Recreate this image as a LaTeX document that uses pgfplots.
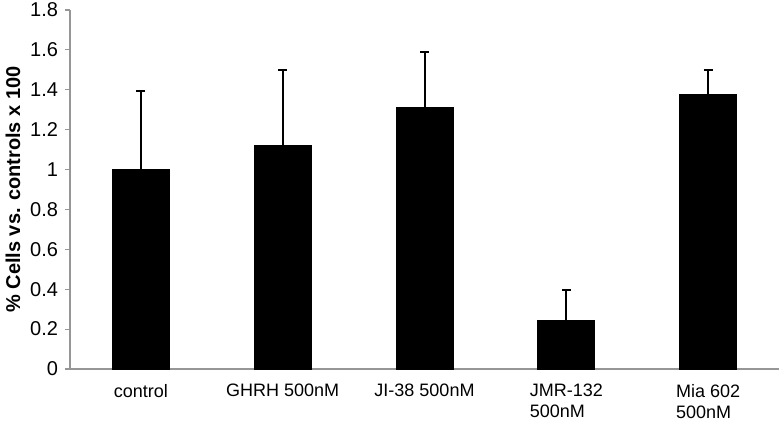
\documentclass[border=0pt]{standalone}
\usepackage{fontspec}
\setmainfont{Liberation Sans}
\usepackage{pgfplots}
\pgfplotsset{compat=1.18}

\definecolor{axisgray}{RGB}{150,150,150}

\begin{document}
\begin{tikzpicture}
\begin{axis}[
    scale only axis,
    width=354.5pt,
    height=179.5pt,
    ybar,
    bar width=28.5pt,
    xmin=-0.5, xmax=4.5,
    ymin=0, ymax=1.8,
    axis lines*=left,
    axis line style={axisgray, line width=0.6pt},
    xtick={0,1,2,3,4},
    xticklabels={control, GHRH 500nM, JI-38 500nM, {JMR-132\\500nM}, {Mia 602\\500nM}},
    major x tick style={draw=none},
    extra x ticks={-0.5,0.5,1.5,2.5,3.5,4.5},
    extra x tick labels={},
    extra x tick style={tick style={axisgray, line width=0.6pt}, major tick length=3pt, tick align=outside},
    x tick label style={font=\fontsize{9}{10.5}\selectfont, align=left, anchor=north, yshift=-1.5pt},
    ytick={0,0.2,...,1.8},
    y tick style={axisgray, line width=0.6pt},
    tick align=outside,
    major tick length=2.5pt,
    y tick label style={font=\fontsize{10}{12}\selectfont},
    yticklabel style={/pgf/number format/fixed, /pgf/number format/precision=1, /pgf/number format/assume math mode=true},
    ylabel={\bfseries \% Cells vs. controls x 100},
    ylabel style={font=\fontsize{10}{12}\selectfont},
    ylabel shift=-2pt,
    clip=false,
]
\addplot[fill=black, draw=black,
    error bars/.cd, y dir=plus, y explicit,
    error bar style={line width=1pt, black},
    error mark=-,
    error mark options={rotate=90, line width=1pt, mark size=2.25pt, black}]
coordinates {
    (0,1.000) +- (0,0.395)
    (1,1.123) +- (0,0.377)
    (2,1.310) +- (0,0.280)
    (3,0.245) +- (0,0.150)
    (4,1.375) +- (0,0.125)
};
\coordinate (bbsw) at (rel axis cs:0,0);
\coordinate (bbne) at (rel axis cs:1,1);
\end{axis}
\pgfresetboundingbox
\path ([shift={(-35pt,-26pt)}]bbsw) rectangle ([shift={(0.5pt,5pt)}]bbne);
\end{tikzpicture}
\end{document}
